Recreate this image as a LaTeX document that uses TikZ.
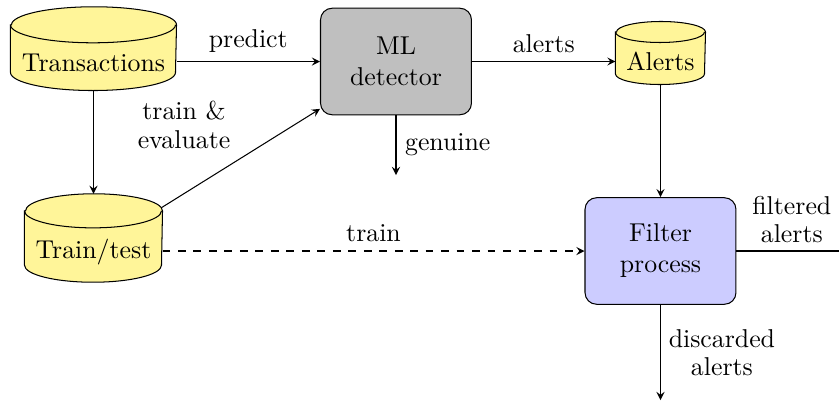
\documentclass[tikz,border=0pt]{standalone}
\usetikzlibrary{calc}
\definecolor{dbyellow}{RGB}{255,245,153}
\definecolor{filterblue}{RGB}{204,204,255}
\pgfdeclarelayer{back}
\pgfdeclarelayer{cyl}
\pgfsetlayers{back,cyl,main}
% #1 node name, #2 x radius, #3 y radius of the cylinder end ellipses
\newcommand{\dbcylinder}[3]{%
  \draw[fill=dbyellow] ([yshift=-#3]#1.north west) -- ([yshift=#3]#1.south west)
     arc[start angle=180, end angle=360, x radius=#2, y radius=#3]
     -- ([yshift=-#3]#1.north east)
     arc[start angle=0, end angle=180, x radius=#2, y radius=#3] -- cycle;
  \draw ([yshift=-#3]#1.north west) arc[start angle=180, end angle=360, x radius=#2, y radius=#3];
}
\begin{document}
\begin{tikzpicture}[x=0.3875pt,y=-0.3875pt,>=stealth,
  db/.style={rectangle, inner sep=0pt, anchor=base},
  proc/.style={rectangle, rounded corners=4.5pt, draw, align=center, minimum width=58.5pt, minimum height=41.3pt},
  lbl/.style={align=center, inner sep=3pt},
  conn/.style={->}]
\useasboundingbox (0,0) rectangle (839,403);
\node[db, minimum width=63.94pt, text height=24.96pt, text depth=7.09pt] (trans) at (93.5,71.7) {Transactions};
\node[db, minimum width=53.09pt, text height=24.8pt, text depth=9.07pt] (train) at (93.5,258.3) {Train/test};
\node[db, minimum width=34.49pt, text height=18.87pt, text depth=5.15pt] (alerts) at (660.5,70.7) {Alerts};
\node[proc, fill=gray!50] (ml) at (396,61.5) {ML\\detector};
\node[proc, fill=filterblue] (filter) at (660.5,251) {Filter\\process};
\coordinate (genuine) at (396,175);
\coordinate (out) at (839,251);
\coordinate (disc) at (660.5,400);
\node[lbl] (trev) at (184,125) {train \&\\[-1pt]evaluate};
\begin{pgfonlayer}{cyl}
  \dbcylinder{trans}{31.97pt}{6.98pt}
  \dbcylinder{train}{26.545pt}{6.6pt}
  \dbcylinder{alerts}{17.245pt}{4.07pt}
\end{pgfonlayer}
\begin{pgfonlayer}{back}
  \draw[conn] ([yshift=3.2pt]train.base) -- (ml);
\end{pgfonlayer}
\draw[conn] (ml.west -| trans.east) -- node[above] {predict} (ml.west);
\draw[conn] (ml.east) -- node[above] {alerts} (ml.east -| alerts.west);
\draw[conn] (trans.south) -- (train.north);
\draw[conn, dashed] (filter.west -| train.east) -- node[above] {train} (filter.west);
\draw[conn] (ml) -- node[right] {genuine} (genuine);
\draw[conn] (alerts.south) -- (filter.north);
\draw (filter) -- node[lbl, above, pos=0.54] {filtered\\[-1pt]alerts} (out);
\draw[conn] (filter) -- node[lbl, right] {discarded\\[-1pt]alerts} (disc);
\end{tikzpicture}
\end{document}
